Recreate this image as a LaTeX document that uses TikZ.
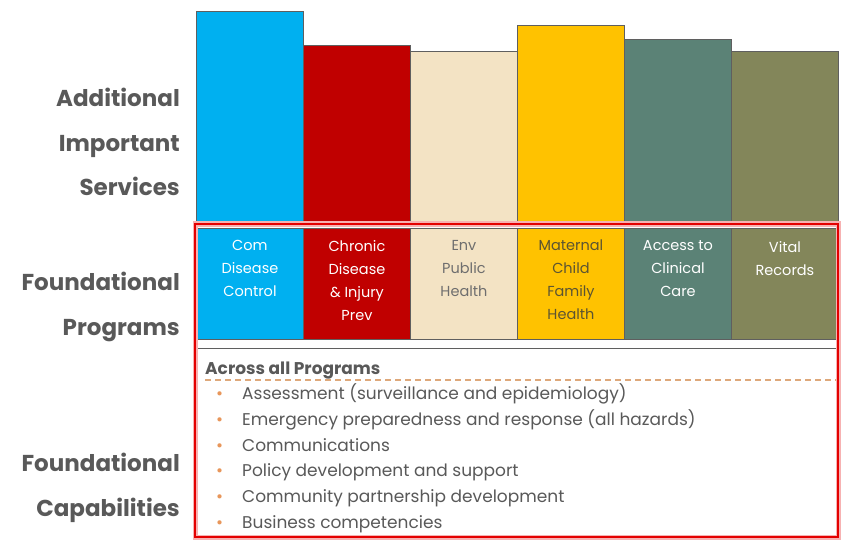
\documentclass[tikz,border=0pt]{standalone}
\usepackage{fontspec}
\usepackage{tikz}
\setmainfont{Poppins}
\usetikzlibrary{positioning}
\definecolor{comblue}{RGB}{0, 176, 240}
\definecolor{chronicred}{RGB}{192, 0, 0}
\definecolor{envcream}{RGB}{243, 227, 196}
\definecolor{matyellow}{RGB}{255, 194, 0}
\definecolor{accessteal}{RGB}{91, 130, 118}
\definecolor{vitalolive}{RGB}{131, 134, 90}
\definecolor{boxgray}{RGB}{95, 95, 95}
\definecolor{labelgray}{RGB}{89, 89, 89}
\definecolor{envtext}{RGB}{110, 110, 110}
\definecolor{mattext}{RGB}{92, 84, 50}
\definecolor{framered}{RGB}{228, 0, 0}
\definecolor{dashtan}{RGB}{222, 168, 122}
\definecolor{bulletorange}{RGB}{232, 150, 90}

\newcommand{\sidefont}{\fontsize{23}{44.5}\selectfont\bfseries}
\newcommand{\progfont}{\fontsize{14.5}{23}\selectfont}
\newcommand{\capfont}{\fontsize{17}{20}\selectfont}
\newcommand{\capbullet}{\makebox[26pt][l]{\textcolor{bulletorange}{\textbullet}}}

\begin{document}
\begin{tikzpicture}[x=1pt, y=-1pt,
    servbox/.style={draw=boxgray, line width=0.9pt, anchor=north west, minimum width=107pt, inner sep=0pt},
    progbox/.style={servbox, minimum height=111pt},
    progtext/.style={align=center, font=\progfont, text=white, inner sep=0pt},
    sidelabel/.style={anchor=east, align=right, font=\sidefont, text=labelgray, inner sep=0pt},
    capitem/.style={anchor=base west, font=\capfont, text=labelgray, inner sep=0pt}]
    \useasboundingbox[fill=white] (0,0) rectangle (843,540);

    % Additional important services - columns
    \node[servbox, fill=comblue, minimum height=211pt] (serv1) at (196,11) {};
    \node[servbox, fill=chronicred, minimum height=177pt] (serv2) at (303,45) {};
    \node[servbox, fill=envcream, minimum height=171pt] (serv3) at (410,51) {};
    \node[servbox, fill=matyellow, minimum height=197pt] (serv4) at (517,25) {};
    \node[servbox, fill=accessteal, minimum height=183pt] (serv5) at (624,39) {};
    \node[servbox, fill=vitalolive, minimum height=171pt] (serv6) at (731,51) {};

    % Foundational programs - boxes
    \node[progbox, fill=comblue] (prog1) at (196,228) {};
    \node[progbox, fill=chronicred] (prog2) at (303,228) {};
    \node[progbox, fill=envcream] (prog3) at (410,228) {};
    \node[progbox, fill=matyellow] (prog4) at (517,228) {};
    \node[progbox, fill=accessteal] (prog5) at (624,228) {};
    \node[progbox, fill=vitalolive] (prog6) at (731,228) {};

    % Program names
    \node[progtext, below=12pt of prog1.north] (com) {Com\\Disease\\Control};
    \node[progtext, below=12pt of prog2.north] (chronic) {Chronic\\Disease\\\& Injury\\Prev};
    \node[progtext, below=12pt of prog3.north, text=envtext] (env) {Env\\Public\\Health};
    \node[progtext, below=12pt of prog4.north, text=mattext] (maternal) {Maternal\\Child\\Family\\Health};
    \node[progtext, below=12pt of prog5.north] (access) {Access to\\Clinical\\Care};
    \node[progtext, below=13pt of prog6.north] (vital) {Vital\\Records};

    % Foundational capabilities box
    \node[draw=boxgray, line width=0.9pt, anchor=north west, minimum width=642pt, minimum height=189pt, inner sep=0pt] (caps) at (196,348) {};
    \node[anchor=base west, font=\capfont\bfseries, text=labelgray, inner sep=0pt] (across) at (205,374) {Across all Programs};
    \draw[dashtan, line width=1.3pt, dash pattern=on 6pt off 4pt] (205,380) -- (838,380);

    % Capability items
    \node[capitem] (cap1) at (216,399) {\capbullet Assessment (surveillance and epidemiology)};
    \node[capitem] (cap2) at (216,425) {\capbullet Emergency preparedness and response (all hazards)};
    \node[capitem] (cap3) at (216,451) {\capbullet Communications};
    \node[capitem] (cap4) at (216,476) {\capbullet Policy development and support};
    \node[capitem] (cap5) at (216,502) {\capbullet Community partnership development};
    \node[capitem] (cap6) at (216,528) {\capbullet Business competencies};

    % Red frame round the foundational part
    \draw[framered!30, line width=5pt] (195,224) rectangle (838,537);
    \draw[framered, line width=1.8pt] (195,224) rectangle (838,537);

    % Row labels
    \node[sidelabel] (services) at (180,142) {Additional\\Important\\Services};
    \node[sidelabel] (programs) at (180,307) {Foundational\\Programs};
    \node[sidelabel] (capabilities) at (180,488) {Foundational\\Capabilities};
\end{tikzpicture}
\end{document}
